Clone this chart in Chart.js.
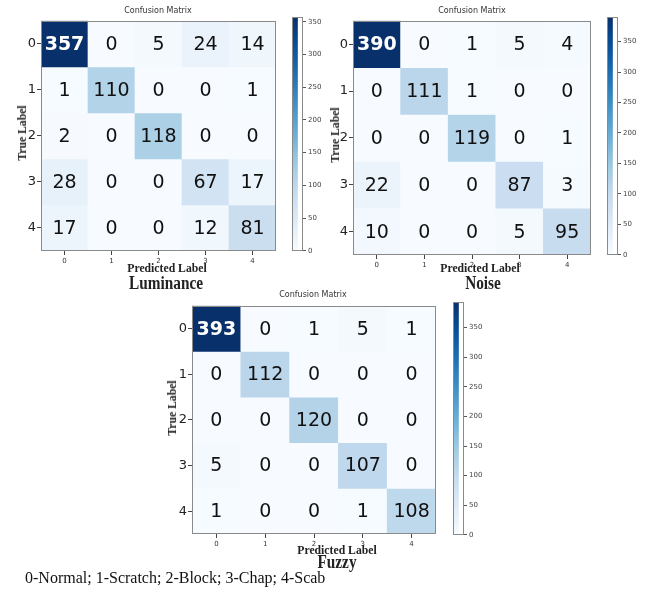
<!DOCTYPE html>
<html>
<head>
<meta charset="utf-8">
<script src="https://cdn.jsdelivr.net/npm/chart.js@4.4.1/dist/chart.umd.min.js"></script>
<style>
body{margin:0;background:#fff;width:651px;height:591px;position:relative;overflow:hidden}
canvas{position:absolute}
.t{position:absolute;white-space:nowrap;transform:translate(-50%,-50%)}
.cm{font:8px "DejaVu Sans";color:#333}
.ser{font-family:"Liberation Serif","Times New Roman",serif;font-weight:bold;color:#222}
.pred{font-size:13px;transform:translate(-50%,-50%) scaleX(0.9)}
.name{font-size:18px;transform:translate(-50%,-50%) scaleX(0.85)}
.truel{font-size:13px;transform:translate(-50%,-50%) rotate(-90deg) scaleX(0.9)}
.foot{position:absolute;left:25px;top:569px;font:16px "Liberation Serif","Times New Roman",serif;color:#111;white-space:nowrap}
</style>
</head>
<body>
<script>
// class ids used on both axes
const classes = ['0', '1', '2', '3', '4'];

// confusion matrices, rows = true label, columns = predicted label
const luminance = [
  [357, 0, 5, 24, 14],
  [1, 110, 0, 0, 1],
  [2, 0, 118, 0, 0],
  [28, 0, 0, 67, 17],
  [17, 0, 0, 12, 81]
];
const noise = [
  [390, 0, 1, 5, 4],
  [0, 111, 1, 0, 0],
  [0, 0, 119, 0, 1],
  [22, 0, 0, 87, 3],
  [10, 0, 0, 5, 95]
];
const fuzzy = [
  [393, 0, 1, 5, 1],
  [0, 112, 0, 0, 0],
  [0, 0, 120, 0, 0],
  [5, 0, 0, 107, 0],
  [1, 0, 0, 1, 108]
];

const colorbarTicks = [0, 50, 100, 150, 200, 250, 300, 350];
const footerText = '0-Normal; 1-Scratch; 2-Block; 3-Chap; 4-Scab';

// matplotlib "Blues"
const bluesStops = ['#f7fbff', '#deebf7', '#c6dbef', '#9ecae1', '#6baed6', '#4292c6', '#2171b5', '#08519c', '#08306b'];

function hexRgb(h) {
  return [parseInt(h.slice(1, 3), 16), parseInt(h.slice(3, 5), 16), parseInt(h.slice(5, 7), 16)];
}
function blues(t) {
  t = Math.max(0, Math.min(1, t));
  const p = t * 8;
  const i = Math.min(7, Math.floor(p));
  const f = p - i;
  const a = hexRgb(bluesStops[i]), b = hexRgb(bluesStops[i + 1]);
  const c = a.map((v, k) => Math.round(v + (b[k] - v) * f));
  return `rgb(${c[0]},${c[1]},${c[2]})`;
}

const framePlugin = {
  id: 'frame',
  afterDraw(chart) {
    const a = chart.chartArea, ctx = chart.ctx;
    ctx.save();
    ctx.strokeStyle = '#8a8a8a';
    ctx.lineWidth = 1;
    ctx.strokeRect(Math.round(a.left) + 0.5, Math.round(a.top) + 0.5,
      Math.round(a.right - a.left) - 1, Math.round(a.bottom - a.top) - 1);
    ctx.restore();
  }
};

const cellTextPlugin = {
  id: 'cellText',
  afterDatasetsDraw(chart) {
    const rows = chart.config.options.plugins.cellText.rows;
    const max = Math.max(...rows.flat());
    const ctx = chart.ctx;
    ctx.save();
    ctx.textAlign = 'center';
    ctx.textBaseline = 'middle';
    rows.forEach((row, i) => {
      chart.getDatasetMeta(i).data.forEach((bar, j) => {
        const v = row[j];
        const dark = v > max / 2;
        ctx.fillStyle = dark ? '#ffffff' : '#111111';
        ctx.font = (dark ? 'bold ' : '') + '19px "DejaVu Sans"';
        ctx.fillText(String(v), bar.x, (bar.y + bar.base) / 2 + 1);
      });
    });
    ctx.restore();
  }
};

function addCanvas(left, top, w, h) {
  const c = document.createElement('canvas');
  c.width = w; c.height = h;
  c.style.left = left + 'px'; c.style.top = top + 'px';
  c.style.width = w + 'px'; c.style.height = h + 'px';
  document.body.appendChild(c);
  return c;
}

function addText(cls, text, x, y) {
  const d = document.createElement('div');
  d.className = 't ' + cls;
  d.textContent = text;
  d.style.left = x + 'px'; d.style.top = y + 'px';
  document.body.appendChild(d);
}

function matrixChart(rows, m) {
  const yW = 45, xH = 16, padT = 4, padR = 4;
  const w = (m[2] - m[0]) + yW + padR, h = (m[3] - m[1]) + padT + xH;
  const canvas = addCanvas(m[0] - yW, m[1] - padT, w, h);
  const max = Math.max(...rows.flat());
  const datasets = rows.map((row, i) => ({
    data: row.map(() => [i - 0.5, i + 0.5]),
    backgroundColor: row.map(v => blues(v / max)),
    borderWidth: 0,
    barPercentage: 1,
    categoryPercentage: 1,
    grouped: false
  }));
  new Chart(canvas, {
    type: 'bar',
    data: { labels: classes, datasets },
    options: {
      responsive: false,
      animation: false,
      layout: { padding: { left: 0, top: padT, right: padR, bottom: 0 } },
      plugins: { legend: { display: false }, tooltip: { enabled: false }, cellText: { rows } },
      scales: {
        x: {
          type: 'category',
          offset: true,
          afterFit: s => { s.height = xH; },
          grid: { offset: false, drawOnChartArea: false, tickLength: 4, color: '#444' },
          border: { display: false },
          ticks: { font: { family: 'DejaVu Sans', size: 7 }, color: '#333', padding: 2, maxRotation: 0 }
        },
        y: {
          type: 'linear',
          reverse: true,
          min: -0.5,
          max: classes.length - 0.5,
          afterFit: s => { s.width = yW; },
          afterBuildTicks: s => { s.ticks = classes.map((c, i) => ({ value: i })); },
          grid: { drawOnChartArea: false, tickLength: 4, color: '#444' },
          border: { display: false },
          ticks: {
            font: { family: 'DejaVu Sans', size: 13 }, color: '#222', padding: 1,
            callback: v => classes[v] ?? ''
          }
        }
      }
    },
    plugins: [cellTextPlugin, framePlugin]
  });
}

function colorbarChart(rows, cb) {
  const padL = 2, padT = 6, padB = 6, axW = 28;
  const w = (cb[2] - cb[0]) + padL + axW, h = (cb[3] - cb[1]) + padT + padB;
  const canvas = addCanvas(cb[0] - padL, cb[1] - padT, w, h);
  const max = Math.max(...rows.flat());
  new Chart(canvas, {
    type: 'bar',
    data: {
      labels: ['scale'],
      datasets: [{
        data: [max],
        barPercentage: 1,
        categoryPercentage: 1,
        borderWidth: 0,
        backgroundColor: ctx => {
          const a = ctx.chart.chartArea;
          if (!a) return bluesStops[4];
          const g = ctx.chart.ctx.createLinearGradient(0, a.bottom, 0, a.top);
          bluesStops.forEach((c, i) => g.addColorStop(i / 8, c));
          return g;
        }
      }]
    },
    options: {
      responsive: false,
      animation: false,
      layout: { padding: { left: padL, top: padT, right: 0, bottom: padB } },
      plugins: { legend: { display: false }, tooltip: { enabled: false } },
      scales: {
        x: { display: false, offset: false },
        y: {
          position: 'right',
          min: 0,
          max: max,
          afterFit: s => { s.width = axW; },
          afterBuildTicks: s => { s.ticks = colorbarTicks.filter(v => v <= max).map(v => ({ value: v })); },
          grid: { drawOnChartArea: false, tickLength: 3, color: '#555' },
          border: { display: false },
          ticks: { font: { family: 'DejaVu Sans', size: 7 }, color: '#444', padding: 2 }
        }
      }
    },
    plugins: [framePlugin]
  });
}

const panels = [
  { rows: luminance, name: 'Luminance', m: [41, 16, 276, 251], cb: [292, 17, 303, 251],
    title: [158, 10], trueL: [22, 133], pred: [167, 268], nameAt: [166, 283] },
  { rows: noise, name: 'Noise', m: [353, 16, 591, 255], cb: [607, 17, 618, 255],
    title: [472, 10], trueL: [335, 135], pred: [480, 268], nameAt: [483, 283] },
  { rows: fuzzy, name: 'Fuzzy', m: [192, 301, 436, 534], cb: [453, 302, 464, 535],
    title: [313, 294], trueL: [172, 408], pred: [337, 550], nameAt: [337, 562] }
];

panels.forEach(p => {
  matrixChart(p.rows, p.m);
  colorbarChart(p.rows, p.cb);
  addText('cm', 'Confusion Matrix', p.title[0], p.title[1]);
  addText('ser truel', 'True Label', p.trueL[0], p.trueL[1]);
  addText('ser pred', 'Predicted Label', p.pred[0], p.pred[1]);
  addText('ser name', p.name, p.nameAt[0], p.nameAt[1]);
});

const foot = document.createElement('div');
foot.className = 'foot';
foot.textContent = footerText;
document.body.appendChild(foot);
</script>
</body>
</html>
